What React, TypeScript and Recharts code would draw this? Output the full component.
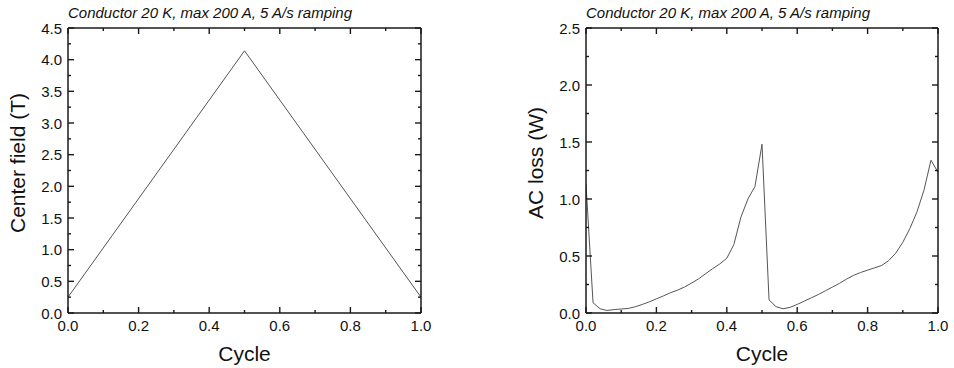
import { LineChart, Line, XAxis, YAxis } from 'recharts'

const FONT = '"Liberation Sans", Arial, sans-serif'
const AXIS = '#1a1a1a'
const TRACE = '#555555'

const TITLE = 'Conductor 20 K, max 200 A, 5 A/s ramping'

// left panel: center field over one cycle
const fieldCycle = [0, 0.5, 1]
const centerField = [0.25, 4.14, 0.25]

// right panel: AC loss over one cycle
const lossCycle = [
  0, 0.02, 0.04, 0.06, 0.08, 0.1, 0.12, 0.14, 0.16, 0.18, 0.2, 0.22, 0.24,
  0.26, 0.28, 0.3, 0.32, 0.34, 0.36, 0.38, 0.4, 0.42, 0.44, 0.46, 0.48, 0.5,
  0.52, 0.54, 0.56, 0.58, 0.6, 0.62, 0.64, 0.66, 0.68, 0.7, 0.72, 0.74, 0.76,
  0.78, 0.8, 0.82, 0.84, 0.86, 0.88, 0.9, 0.92, 0.94, 0.96, 0.98, 1,
]
const acLoss = [
  1.13, 0.09, 0.037, 0.022, 0.03, 0.035, 0.04, 0.055, 0.075, 0.098, 0.124,
  0.15, 0.178, 0.2, 0.228, 0.263, 0.3, 0.345, 0.39, 0.43, 0.48, 0.6, 0.84,
  1.0, 1.11, 1.48, 0.115, 0.055, 0.037, 0.05, 0.075, 0.104, 0.133, 0.162,
  0.195, 0.227, 0.26, 0.297, 0.33, 0.355, 0.376, 0.396, 0.417, 0.46, 0.525,
  0.62, 0.74, 0.885, 1.075, 1.34, 1.235,
]

const cycleTicks = [0, 0.1, 0.2, 0.3, 0.4, 0.5, 0.6, 0.7, 0.8, 0.9, 1]
const fieldTicks = [
  0, 0.25, 0.5, 0.75, 1, 1.25, 1.5, 1.75, 2, 2.25, 2.5, 2.75, 3, 3.25, 3.5,
  3.75, 4, 4.25, 4.5,
]
const lossTicks = [0, 0.25, 0.5, 0.75, 1, 1.25, 1.5, 1.75, 2, 2.25, 2.5]

const MAJOR = 6
const MINOR = 3
const TW = 1.4 // tick thickness

const isMajorX = (v: number) => Math.round(v * 10) % 2 === 0
const isMajorY = (v: number) => Math.round(v * 4) % 2 === 0

const tickText = {
  fontFamily: FONT,
  fontSize: 15,
  fill: '#111',
}

// inward ticks drawn as thin rects, labels only on the major ones
function BottomTick(props: any) {
  const { x, y, payload } = props
  const major = isMajorX(payload.value)
  const len = major ? MAJOR : MINOR
  return (
    <g>
      <rect x={x - TW / 2} y={y - len} width={TW} height={len} fill={AXIS} />
      {major && (
        <text x={x} y={y + 12} textAnchor="middle" dominantBaseline="central" {...tickText}>
          {payload.value.toFixed(1)}
        </text>
      )}
    </g>
  )
}

function TopTick(props: any) {
  const { x, y, payload } = props
  const len = isMajorX(payload.value) ? MAJOR : MINOR
  return <rect x={x - TW / 2} y={y} width={TW} height={len} fill={AXIS} />
}

function LeftTick(props: any) {
  const { x, y, payload } = props
  const major = isMajorY(payload.value)
  const len = major ? MAJOR : MINOR
  return (
    <g>
      <rect x={x} y={y - TW / 2} width={len} height={TW} fill={AXIS} />
      {major && (
        <text x={x - 6} y={y} textAnchor="end" dominantBaseline="central" {...tickText}>
          {payload.value.toFixed(1)}
        </text>
      )}
    </g>
  )
}

function RightTick(props: any) {
  const { x, y, payload } = props
  const len = isMajorY(payload.value) ? MAJOR : MINOR
  return <rect x={x - len} y={y - TW / 2} width={len} height={TW} fill={AXIS} />
}

interface PanelProps {
  left: number
  width: number
  rightMargin: number
  data: { cycle: number; value: number }[]
  yMax: number
  yTicks: number[]
  yLabel: string
}

function Panel({ left, width, rightMargin, data, yMax, yTicks, yLabel }: PanelProps) {
  const height = 368
  const plotLeft = 68
  const plotRight = width - rightMargin
  const axisLine = { stroke: AXIS, strokeWidth: 1.5 }

  return (
    <div style={{ position: 'absolute', left, top: 0, width, height }}>
      <LineChart
        width={width}
        height={height}
        data={data}
        margin={{ top: 27, right: rightMargin - 1, bottom: 0, left: 0 }}
      >
        <XAxis
          dataKey="cycle"
          type="number"
          domain={[0, 1]}
          allowDataOverflow
          ticks={cycleTicks}
          interval={0}
          height={55}
          tickSize={0}
          tickMargin={0}
          tickLine={false}
          axisLine={axisLine}
          tick={(p: any) => <BottomTick {...p} />}
        />
        <XAxis
          xAxisId="top"
          dataKey="cycle"
          orientation="top"
          type="number"
          domain={[0, 1]}
          allowDataOverflow
          ticks={cycleTicks}
          interval={0}
          height={1}
          tickSize={0}
          tickMargin={0}
          tickLine={false}
          axisLine={axisLine}
          tick={(p: any) => <TopTick {...p} />}
        />
        <YAxis
          type="number"
          dataKey="value"
          domain={[0, yMax]}
          allowDataOverflow
          ticks={yTicks}
          interval={0}
          width={plotLeft}
          tickSize={0}
          tickMargin={0}
          tickLine={false}
          axisLine={axisLine}
          tick={(p: any) => <LeftTick {...p} />}
        />
        <YAxis
          yAxisId="r"
          dataKey="value"
          orientation="right"
          type="number"
          domain={[0, yMax]}
          allowDataOverflow
          ticks={yTicks}
          interval={0}
          width={1}
          tickSize={0}
          tickMargin={0}
          tickLine={false}
          axisLine={axisLine}
          tick={(p: any) => <RightTick {...p} />}
        />
        <Line
          type="linear"
          dataKey="value"
          stroke={TRACE}
          strokeWidth={1}
          dot={false}
          activeDot={false}
          isAnimationActive={false}
        />
      </LineChart>
      <svg
        width={width}
        height={height}
        style={{ position: 'absolute', left: 0, top: 0, pointerEvents: 'none' }}
      >
        <text x={plotLeft} y={18} fontFamily={FONT} fontSize={15} fontStyle="italic" fill="#111">
          {TITLE}
        </text>
        <text
          x={(plotLeft + plotRight) / 2}
          y={361}
          textAnchor="middle"
          fontFamily={FONT}
          fontSize={21}
          fill="#111"
        >
          Cycle
        </text>
        <text
          x={17}
          y={163}
          transform="rotate(-90, 17, 163)"
          textAnchor="middle"
          dominantBaseline="central"
          fontFamily={FONT}
          fontSize={21}
          fill="#111"
        >
          {yLabel}
        </text>
      </svg>
    </div>
  )
}

export default function App() {
  const fieldData = fieldCycle.map((c, i) => ({ cycle: c, value: centerField[i] }))
  const lossData = lossCycle.map((c, i) => ({ cycle: c, value: acLoss[i] }))

  return (
    <div style={{ position: 'absolute', left: 0, top: 0, width: 954, height: 368, background: '#fff', overflow: 'hidden' }}>
      <Panel
        left={0}
        width={477}
        rightMargin={56}
        data={fieldData}
        yMax={4.5}
        yTicks={fieldTicks}
        yLabel="Center field (T)"
      />
      <Panel
        left={518}
        width={436}
        rightMargin={16}
        data={lossData}
        yMax={2.5}
        yTicks={lossTicks}
        yLabel="AC loss (W)"
      />
    </div>
  )
}
